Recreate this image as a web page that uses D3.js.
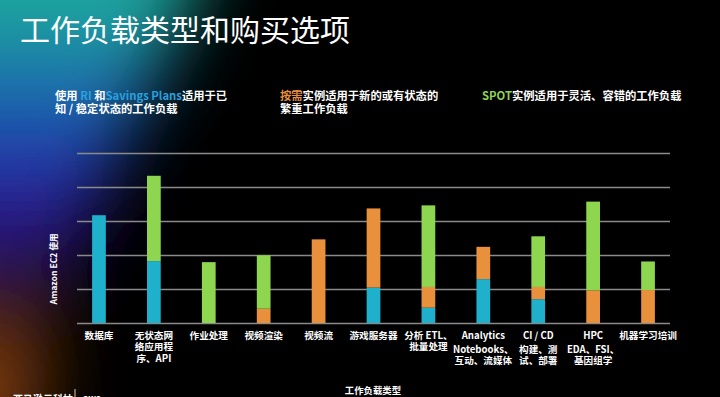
<!DOCTYPE html>
<html>
<head>
<meta charset="utf-8">
<script src="https://cdn.jsdelivr.net/npm/d3@7"></script>
<style>
  html, body { margin: 0; padding: 0; background: #000; }
  svg { display: block; }
  text { font-family: "Noto Sans CJK SC", "Noto Sans", sans-serif; fill: #fff; }
</style>
</head>
<body>
<div id="chart"></div>
<script>
////////////////////////////// DATA ////////////////////////////////

const categories = ["数据库", "无状态网络应用程序、API", "作业处理", "视频渲染", "视频流",
  "游戏服务器", "分析 ETL、批量处理", "Analytics", "CI / CD", "HPC", "机器学习培训"];

// label lines under each bar (main text, then optional sub text)
const labelLines = [
  ["数据库"], ["无状态网", "络应用程", "序、API"], ["作业处理"], ["视频渲染"], ["视频流"],
  ["游戏服务器"], ["分析 ETL、", "批量处理"], ["Analytics"], ["CI / CD"], ["HPC"], ["机器学习培训"]
];
const subLines = [
  [], [], [], [], [], [], [],
  ["Notebooks、", "互动、流媒体"], ["构建、测", "试、部署"], ["EDA、FSI、", "基因组学"], []
];

const riValues       = [3.17, 1.82, 0, 0, 0, 1.04, 0.45, 1.29, 0.70, 0, 0];
const onDemandValues = [0, 0, 0, 0.42, 2.46, 2.33, 0.61, 0.95, 0.36, 0.96, 0.97];
const spotValues     = [0, 2.51, 1.79, 1.57, 0, 0, 2.40, 0, 1.49, 2.61, 0.84];

const seriesKeys = ["ri", "onDemand", "spot"];
const colors = { ri: "#1fb0cc", onDemand: "#e8903c", spot: "#8ed650" };

////////////////////////////// SET UP ////////////////////////////////

const width = 720;
const height = 397;
const margin = { top: 153, right: 50, bottom: 74, left: 77 };

const svg = d3.select("#chart")
  .append("svg")
  .attr("width", width)
  .attr("height", height);

svg.append("rect").attr("width", width).attr("height", height).attr("fill", "#000");

////////////////////////////// BACKGROUND GLOW ////////////////////////////////

const defs = svg.append("defs");

const glowGrad = defs.append("linearGradient")
  .attr("id", "glowGrad")
  .attr("gradientUnits", "userSpaceOnUse")
  .attr("x1", 0).attr("y1", 0).attr("x2", 0).attr("y2", height);
[
  [0, "#1fa99c"], [0.18, "#1a78aa"], [0.35, "#1d45b0"], [0.52, "#2c1690"],
  [0.66, "#1e0c4a"], [0.76, "#3a1a0a"], [1, "#8a420c"]
].forEach(([o, c]) => glowGrad.append("stop").attr("offset", o).attr("stop-color", c));

defs.append("filter")
  .attr("id", "blur")
  .attr("filterUnits", "userSpaceOnUse")
  .attr("x", -200).attr("y", -200).attr("width", 700).attr("height", 800)
  .append("feGaussianBlur")
  .attr("stdDeviation", 36);

svg.append("path")
  .attr("d", "M-120,-120 L230,-120 L175,40 L120,150 L80,250 L50,320 L40,420 L-120,520 Z")
  .attr("fill", "url(#glowGrad)")
  .attr("filter", "url(#blur)");

////////////////////////////// TITLES ////////////////////////////////

svg.append("text")
  .attr("x", 20).attr("y", 41)
  .style("font-size", "30px")
  .style("font-weight", 400)
  .text("工作负载类型和购买选项");

function richLine(x, y, parts) {
  const t = svg.append("text")
    .attr("x", x).attr("y", y)
    .style("font-size", "11.3px")
    .style("font-weight", 700);
  parts.forEach(([txt, col]) => t.append("tspan").style("fill", col || "#fff").text(txt));
}

richLine(55, 100, [["使用 "], ["RI", "#2aa0dc"], [" 和"], ["Savings Plans", "#2aa0dc"], ["适用于已"]]);
richLine(55, 113, [["知 / 稳定状态的工作负载"]]);
richLine(280, 99.5, [["按需", "#e8903c"], ["实例适用于新的或有状态的"]]);
richLine(280, 112.5, [["繁重工作负载"]]);
richLine(482, 99.5, [["SPOT", "#8ed650"], ["实例适用于灵活、容错的工作负载"]]);

////////////////////////////// SCALES ////////////////////////////////

const x = d3.scaleBand()
  .domain(categories)
  .range([margin.left, width - margin.right])
  .paddingInner(0.75)
  .paddingOuter(0.275);

const y = d3.scaleLinear()
  .domain([0, 5])
  .range([height - margin.bottom, margin.top]);

// gridlines
const grid = svg.append("g")
  .attr("transform", `translate(${margin.left},0)`)
  .call(d3.axisLeft(y).ticks(5).tickSize(-(width - margin.right - margin.left)).tickFormat(""));
grid.select(".domain").remove();
grid.selectAll(".tick line")
  .attr("stroke", "#8a8a8a")
  .attr("stroke-width", 1.5);

////////////////////////////// BARS ////////////////////////////////

const table = categories.map((c, i) => ({
  category: c,
  ri: riValues[i],
  onDemand: onDemandValues[i],
  spot: spotValues[i]
}));

const stacked = d3.stack().keys(seriesKeys)(table);

svg.append("g")
  .selectAll("g")
  .data(stacked)
  .join("g")
  .attr("fill", (d) => colors[d.key])
  .selectAll("rect")
  .data((d) => d.filter((p) => p[1] - p[0] > 0))
  .join("rect")
  .attr("x", (d) => x(d.data.category))
  .attr("width", x.bandwidth())
  .attr("y", (d) => y(d[1]))
  .attr("height", (d) => y(d[0]) - y(d[1]));

////////////////////////////// CATEGORY LABELS ////////////////////////////////

const labels = svg.append("g")
  .selectAll("text")
  .data(categories)
  .join("text")
  .attr("text-anchor", "middle")
  .style("font-size", "9.6px")
  .style("font-weight", 700)
  .attr("transform", (d) => `translate(${x(d) + x.bandwidth() / 2},338.5)`);

labels.each(function (d, i) {
  const t = d3.select(this);
  labelLines[i].forEach((line, j) => {
    t.append("tspan").attr("x", 0).attr("y", j * 11.5).text(line);
  });
  subLines[i].forEach((line, j) => {
    t.append("tspan").attr("x", 0).attr("y", 14.5 + j * 11).text(line);
  });
});

////////////////////////////// AXIS TITLES ////////////////////////////////

svg.append("text")
  .attr("transform", `translate(57,269) rotate(-90)`)
  .attr("text-anchor", "middle")
  .style("font-size", "8.6px")
  .style("font-weight", 700)
  .text("Amazon EC2 使用");

svg.append("text")
  .attr("x", 373).attr("y", 394)
  .attr("text-anchor", "middle")
  .style("font-size", "9.4px")
  .style("font-weight", 700)
  .text("工作负载类型");

// footer, cut off at the bottom edge
svg.append("text")
  .attr("x", 13).attr("y", 403)
  .style("font-size", "10px")
  .style("font-weight", 700)
  .text("亚马逊云科技");
svg.append("line")
  .attr("x1", 75).attr("x2", 75).attr("y1", 389).attr("y2", 397)
  .attr("stroke", "#ccc").attr("stroke-width", 1);
svg.append("text")
  .attr("x", 83).attr("y", 402)
  .style("font-size", "9px")
  .style("font-weight", 700)
  .text("aws");
</script>
</body>
</html>
